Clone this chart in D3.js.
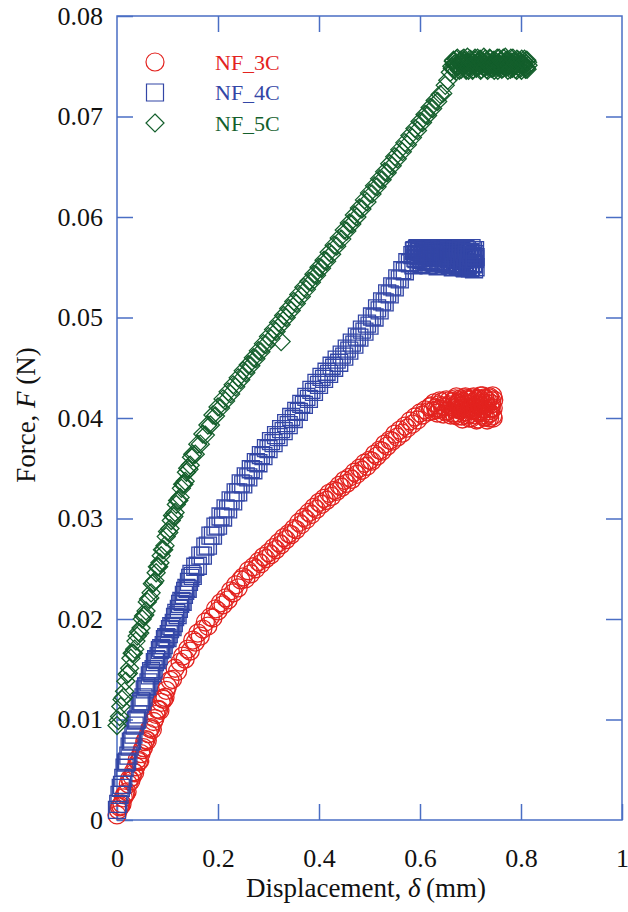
<!DOCTYPE html>
<html>
<head>
<meta charset="utf-8">
<script src="https://cdn.jsdelivr.net/npm/d3@7/dist/d3.min.js"></script>
<style>
  html, body { margin: 0; padding: 0; background: #fff; }
  svg { display: block; }
</style>
</head>
<body>
<svg id="chart" width="628" height="912"></svg>
<script>
// Force–displacement measurements, [displacement (mm), force (N)]
const seriesNames = ["NF_3C", "NF_4C", "NF_5C"];
const seriesColors = ["#e3231f", "#3346a6", "#145f2c"];

const nf3c = [
  [0,0.0005],[0.0025,0.0010],[0.005,0.0013],[0.0075,0.0014],[0.01,0.0016],[0.0125,0.0022],[0.015,0.0025],
  [0.0175,0.0026],[0.02,0.0028],[0.0225,0.0036],[0.025,0.0041],[0.0275,0.0039],[0.03,0.0043],[0.0325,0.0048],
  [0.035,0.0047],[0.0375,0.0053],[0.04,0.0060],[0.0425,0.0058],[0.045,0.0059],[0.0475,0.0066],[0.05,0.0070],
  [0.0525,0.0072],[0.055,0.0078],[0.0575,0.0080],[0.06,0.0079],[0.0625,0.0086],[0.065,0.0091],[0.0675,0.0092],
  [0.07,0.0090],[0.0725,0.0098],[0.075,0.0101],[0.0775,0.0105],[0.08,0.0110],[0.0825,0.0110],[0.085,0.0109],
  [0.0875,0.0117],[0.09,0.0121],[0.0925,0.0120],[0.095,0.0122],[0.0975,0.0129],[0.1,0.0133],
  [0.105,0.0139],[0.11,0.0140],[0.115,0.0151],[0.12,0.0148],[0.125,0.0157],[0.13,0.0163],[0.135,0.0160],
  [0.14,0.0170],[0.145,0.0168],[0.15,0.0179],[0.155,0.0177],[0.16,0.0186],[0.165,0.0183],[0.17,0.0190],
  [0.175,0.0197],[0.18,0.0193],[0.185,0.0202],[0.19,0.0201],[0.195,0.0210],[0.2,0.0208],[0.205,0.0216],
  [0.21,0.0214],[0.215,0.0221],[0.22,0.0219],[0.225,0.0228],[0.23,0.0226],[0.235,0.0234],[0.24,0.0231],
  [0.245,0.0239],[0.25,0.0242],[0.255,0.0240],[0.26,0.0248],[0.265,0.0245],[0.27,0.0252],[0.275,0.0250],
  [0.28,0.0257],[0.285,0.0255],[0.29,0.0262],[0.295,0.0260],[0.3,0.0266],[0.305,0.0264],[0.31,0.0271],
  [0.315,0.0269],[0.32,0.0276],[0.325,0.0274],[0.33,0.0281],[0.335,0.0279],[0.34,0.0285],[0.345,0.0284],
  [0.35,0.0290],[0.355,0.0289],[0.36,0.0296],[0.365,0.0294],[0.37,0.0301],[0.375,0.0299],[0.38,0.0306],
  [0.385,0.0304],[0.39,0.0311],[0.395,0.0309],[0.4,0.0316],[0.405,0.0314],[0.41,0.0320],[0.415,0.0318],
  [0.42,0.0325],[0.425,0.0322],[0.43,0.0328],[0.435,0.0327],[0.44,0.0333],[0.445,0.0331],[0.45,0.0338],
  [0.455,0.0335],[0.46,0.0341],[0.465,0.0339],[0.47,0.0346],[0.475,0.0344],[0.48,0.0350],[0.485,0.0348],
  [0.49,0.0355],[0.495,0.0352],[0.5,0.0358],[0.505,0.0357],[0.51,0.0364],[0.515,0.0362],[0.52,0.0368],
  [0.525,0.0367],[0.53,0.0374],[0.535,0.0372],[0.54,0.0378],[0.545,0.0377],[0.55,0.0384],[0.555,0.0381],
  [0.56,0.0388],[0.565,0.0385],[0.57,0.0392],[0.575,0.0390],[0.58,0.0397],[0.585,0.0394],[0.59,0.0401],
  [0.595,0.0398],[0.6,0.0405],[0.605,0.0403],[0.61,0.0408],[0.615,0.0406],[0.62,0.0411],
  [0.622,0.0412],[0.625,0.0407],[0.628,0.0415],[0.631,0.0410],[0.634,0.0405],[0.637,0.0413],[0.64,0.0409],
  [0.643,0.0416],[0.646,0.0404],[0.649,0.0411],[0.652,0.0418],[0.655,0.0407],[0.658,0.0413],[0.661,0.0403],
  [0.664,0.0416],[0.667,0.0409],[0.67,0.0419],[0.673,0.0405],[0.676,0.0412],[0.679,0.0417],[0.682,0.0402],
  [0.685,0.0410],[0.688,0.0420],[0.691,0.0406],[0.694,0.0414],[0.697,0.0400],[0.7,0.0418],[0.703,0.0408],
  [0.706,0.0421],[0.709,0.0403],[0.712,0.0413],[0.715,0.0399],[0.718,0.0419],[0.721,0.0407],[0.724,0.0422],
  [0.727,0.0401],[0.73,0.0415],[0.733,0.0398],[0.736,0.0420],[0.739,0.0405],[0.742,0.0417],[0.745,0.0400],
  [0.744,0.0422],[0.741,0.0410],[0.735,0.0407],[0.729,0.0419],[0.723,0.0412],[0.717,0.0405],[0.711,0.0418],
  [0.705,0.0411],[0.699,0.0404],[0.693,0.0419],[0.687,0.0413],[0.681,0.0408],[0.675,0.0415],[0.669,0.0403],
  [0.663,0.0411],[0.657,0.0417],[0.651,0.0406],[0.645,0.0412],[0.639,0.0417],[0.633,0.0408],[0.745,0.0410],
  [0.738,0.0400],
  [0.666,0.0405],[0.668,0.0417],[0.670,0.0410],[0.672,0.0421],[0.674,0.0402],[0.676,0.0414],[0.678,0.0408],
  [0.680,0.0419],[0.682,0.0412],[0.684,0.0399],[0.686,0.0416],[0.688,0.0406],[0.690,0.0421],[0.692,0.0410],
  [0.694,0.0403],[0.696,0.0418],[0.698,0.0409],[0.700,0.0414],[0.702,0.0400],[0.704,0.0420],[0.706,0.0407],
  [0.708,0.0416],[0.710,0.0411],[0.712,0.0398],[0.714,0.0419],[0.716,0.0406],[0.718,0.0413],[0.720,0.0422],
  [0.722,0.0403],[0.724,0.0415],[0.726,0.0409],[0.728,0.0420],[0.730,0.0401],[0.732,0.0412],[0.734,0.0417],
  [0.736,0.0404],[0.738,0.0421],[0.740,0.0409],[0.742,0.0414],[0.744,0.0402],[0.746,0.0418]
];

const nf4c = [
  [0,0.0010],[0.0025,0.0016],[0.005,0.0025],[0.0075,0.0032],[0.01,0.0035],[0.0125,0.0042],[0.015,0.0052],
  [0.0175,0.0057],[0.02,0.0058],[0.0225,0.0064],[0.025,0.0073],[0.0275,0.0078],[0.03,0.0079],[0.0325,0.0085],
  [0.035,0.0094],[0.0375,0.0099],[0.04,0.0100],[0.0425,0.0105],[0.045,0.0115],[0.0475,0.0118],[0.05,0.0118],
  [0.0525,0.0122],[0.055,0.0130],[0.0575,0.0133],[0.06,0.0133],[0.0625,0.0137],[0.065,0.0144],[0.0675,0.0148],
  [0.07,0.0146],[0.0725,0.0150],[0.075,0.0157],[0.0775,0.0160],[0.08,0.0159],[0.0825,0.0163],[0.085,0.0169],
  [0.0875,0.0171],[0.09,0.0170],[0.0925,0.0174],[0.095,0.0180],[0.0975,0.0182],[0.1,0.0181],[0.1025,0.0185],
  [0.105,0.0190],[0.1075,0.0193],[0.11,0.0192],[0.1125,0.0196],[0.115,0.0202],[0.1175,0.0206],[0.12,0.0204],
  [0.1225,0.0210],[0.125,0.0215],[0.1275,0.0218],[0.13,0.0217],[0.1325,0.0224],[0.135,0.0228],[0.1375,0.0231],
  [0.14,0.0230],[0.1425,0.0237],[0.145,0.0241],[0.1475,0.0245],[0.15,0.0243],
  [0.155,0.0252],[0.16,0.0253],[0.165,0.0263],[0.17,0.0263],
  [0.175,0.0272],[0.18,0.0273],[0.185,0.0283],[0.19,0.0283],[0.195,0.0292],[0.2,0.0293],[0.205,0.0302],
  [0.21,0.0301],[0.215,0.0310],[0.22,0.0309],[0.225,0.0318],[0.23,0.0317],[0.235,0.0326],[0.24,0.0326],
  [0.245,0.0335],[0.25,0.0334],[0.255,0.0342],[0.26,0.0341],[0.265,0.0349],[0.27,0.0348],[0.275,0.0356],
  [0.28,0.0355],[0.285,0.0363],[0.29,0.0362],[0.295,0.0370],[0.3,0.0369],[0.305,0.0377],[0.31,0.0375],
  [0.315,0.0383],[0.32,0.0381],[0.325,0.0389],[0.33,0.0387],[0.335,0.0395],[0.34,0.0393],[0.345,0.0401],
  [0.35,0.0399],[0.355,0.0407],[0.36,0.0406],[0.365,0.0414],[0.37,0.0413],[0.375,0.0421],[0.38,0.0419],
  [0.385,0.0428],[0.39,0.0426],[0.395,0.0435],[0.4,0.0433],[0.405,0.0441],[0.41,0.0439],[0.415,0.0446],
  [0.42,0.0444],[0.425,0.0452],[0.43,0.0450],[0.435,0.0458],[0.44,0.0455],[0.445,0.0463],[0.45,0.0461],
  [0.455,0.0469],[0.46,0.0467],[0.465,0.0475],[0.47,0.0473],[0.475,0.0481],[0.48,0.0480],[0.485,0.0488],
  [0.49,0.0486],[0.495,0.0494],[0.5,0.0492],[0.505,0.0501],[0.51,0.0500],[0.515,0.0509],[0.52,0.0507],
  [0.525,0.0516],[0.53,0.0515],[0.535,0.0524],[0.54,0.0523],[0.545,0.0531],[0.55,0.0530],[0.555,0.0539],
  [0.56,0.0538],[0.565,0.0547],[0.57,0.0546],[0.575,0.0555],[0.58,0.0554],[0.585,0.0562],
  [0.588,0.0566],[0.591,0.0559],[0.594,0.0568],[0.597,0.0561],[0.6,0.0565],[0.603,0.0557],[0.606,0.0569],
  [0.609,0.0562],[0.612,0.0566],[0.615,0.0556],[0.618,0.0568],[0.621,0.0560],[0.624,0.0564],[0.627,0.0555],
  [0.63,0.0569],[0.633,0.0561],[0.636,0.0566],[0.639,0.0554],[0.642,0.0568],[0.645,0.0559],[0.648,0.0564],
  [0.651,0.0553],[0.654,0.0569],[0.657,0.0558],[0.66,0.0565],[0.663,0.0552],[0.666,0.0568],[0.669,0.0557],
  [0.672,0.0563],[0.675,0.0551],[0.678,0.0569],[0.681,0.0556],[0.684,0.0564],[0.687,0.0550],[0.69,0.0568],
  [0.693,0.0555],[0.696,0.0562],[0.699,0.0549],[0.702,0.0569],[0.705,0.0554],[0.708,0.0563],[0.71,0.0550],
  [0.709,0.0567],[0.706,0.0559],[0.7,0.0565],[0.694,0.0551],[0.688,0.0560],[0.682,0.0566],[0.676,0.0558],
  [0.67,0.0566],[0.664,0.0560],[0.658,0.0563],[0.652,0.0567],[0.646,0.0562],[0.64,0.0560],[0.634,0.0564],
  [0.628,0.0560],[0.622,0.0566],[0.616,0.0561],[0.61,0.0563],[0.604,0.0561],[0.598,0.0567],[0.592,0.0563],
  [0.71,0.0560],[0.707,0.0548],
  [0.587,0.0552],[0.589,0.0567],[0.591,0.0563],[0.593,0.0558],[0.595,0.0569],[0.597,0.0555],[0.599,0.0561],
  [0.601,0.0566],[0.603,0.0553],[0.605,0.0564],[0.607,0.0559],[0.609,0.0568],[0.611,0.0556],[0.613,0.0562],
  [0.615,0.0565],[0.617,0.0552],[0.619,0.0560],[0.621,0.0569],[0.623,0.0557],[0.625,0.0563],[0.627,0.0567],
  [0.629,0.0554],[0.631,0.0561],[0.633,0.0565],[0.635,0.0551],[0.637,0.0559],[0.639,0.0568],[0.641,0.0556],
  [0.643,0.0562],[0.645,0.0566],[0.647,0.0553],[0.649,0.0560],[0.651,0.0569],[0.653,0.0555],[0.655,0.0561],
  [0.657,0.0567],[0.659,0.0552],[0.661,0.0558],[0.663,0.0564],[0.665,0.0550],[0.667,0.0561],[0.669,0.0569],
  [0.671,0.0554],[0.673,0.0559],[0.675,0.0566],[0.677,0.0551],[0.679,0.0562],[0.681,0.0568],[0.683,0.0553],
  [0.685,0.0557],[0.687,0.0565],[0.689,0.0549],[0.691,0.0560],[0.693,0.0567],[0.695,0.0552],[0.697,0.0558],
  [0.699,0.0564],[0.701,0.0550],[0.703,0.0561],[0.705,0.0567],[0.707,0.0553],[0.709,0.0558]
];

const nf5c = [
  [0,0.0094],[0.0025,0.0099],[0.005,0.0103],[0.0075,0.0113],[0.01,0.0120],[0.0125,0.0122],[0.015,0.0128],
  [0.0175,0.0138],[0.02,0.0145],[0.0225,0.0146],[0.025,0.0151],[0.0275,0.0161],[0.03,0.0166],[0.0325,0.0166],
  [0.035,0.0170],[0.0375,0.0178],[0.04,0.0183],[0.0425,0.0187],[0.045,0.0186],[0.0475,0.0191],[0.05,0.0200],
  [0.0525,0.0203],[0.055,0.0204],[0.0575,0.0208],[0.06,0.0217],[0.0625,0.0220],[0.065,0.0221],[0.0675,0.0226],
  [0.07,0.0235],[0.0725,0.0236],[0.075,0.0238],[0.0775,0.0246],[0.08,0.0252],[0.0825,0.0252],[0.085,0.0256],
  [0.0875,0.0263],[0.09,0.0269],[0.0925,0.0269],[0.095,0.0273],[0.0975,0.0282],[0.1,0.0287],[0.1025,0.0286],
  [0.105,0.0290],[0.1075,0.0298],[0.11,0.0303],[0.1125,0.0302],[0.115,0.0306],[0.1175,0.0314],[0.12,0.0318],
  [0.1225,0.0318],[0.125,0.0321],[0.1275,0.0330],[0.13,0.0334],[0.1325,0.0334],[0.135,0.0337],[0.1375,0.0346],
  [0.14,0.0350],[0.1425,0.0349],[0.145,0.0353],[0.1475,0.0361],[0.15,0.0364],
  [0.155,0.0364],[0.16,0.0374],[0.165,0.0374],[0.17,0.0384],
  [0.175,0.0383],[0.18,0.0393],[0.185,0.0393],[0.19,0.0403],[0.195,0.0402],[0.2,0.0411],[0.205,0.0410],
  [0.21,0.0419],[0.215,0.0417],[0.22,0.0426],[0.225,0.0424],[0.23,0.0433],[0.235,0.0431],[0.24,0.0440],
  [0.245,0.0438],[0.25,0.0447],[0.255,0.0445],[0.26,0.0453],[0.265,0.0452],[0.27,0.0460],[0.275,0.0459],
  [0.28,0.0467],[0.285,0.0466],[0.29,0.0474],[0.295,0.0473],[0.3,0.0481],[0.305,0.0479],[0.31,0.0488],
  [0.315,0.0486],[0.32,0.0495],[0.325,0.0493],[0.325,0.0476],[0.33,0.0502],[0.335,0.0500],[0.34,0.0509],
  [0.345,0.0507],[0.35,0.0516],[0.355,0.0514],[0.36,0.0523],[0.365,0.0521],[0.37,0.0530],[0.375,0.0528],
  [0.38,0.0536],[0.385,0.0535],[0.39,0.0543],[0.395,0.0542],[0.4,0.0550],[0.405,0.0549],[0.41,0.0557],
  [0.415,0.0556],[0.42,0.0565],[0.425,0.0563],[0.43,0.0572],[0.435,0.0571],[0.44,0.0579],[0.445,0.0578],
  [0.45,0.0587],[0.455,0.0586],[0.46,0.0594],[0.465,0.0593],[0.47,0.0602],[0.475,0.0600],[0.48,0.0609],
  [0.485,0.0608],[0.49,0.0617],[0.495,0.0615],[0.5,0.0624],[0.505,0.0623],[0.51,0.0631],[0.515,0.0630],
  [0.52,0.0638],[0.525,0.0637],[0.53,0.0645],[0.535,0.0644],[0.54,0.0653],[0.545,0.0651],[0.55,0.0660],
  [0.555,0.0658],[0.56,0.0667],[0.565,0.0665],[0.57,0.0674],[0.575,0.0672],[0.58,0.0681],[0.585,0.0679],
  [0.59,0.0688],[0.595,0.0686],[0.6,0.0695],[0.605,0.0694],[0.61,0.0702],[0.615,0.0701],[0.62,0.0709],
  [0.625,0.0708],[0.63,0.0716],[0.635,0.0715],[0.64,0.0722],[0.645,0.0723],[0.65,0.0731],[0.655,0.0736],
  [0.66,0.0744],
  [0.663,0.0750],[0.666,0.0755],[0.669,0.0747],[0.672,0.0757],[0.675,0.0751],[0.678,0.0746],[0.681,0.0756],
  [0.684,0.0750],[0.687,0.0758],[0.69,0.0748],[0.693,0.0754],[0.696,0.0746],[0.699,0.0757],[0.702,0.0751],
  [0.705,0.0747],[0.708,0.0756],[0.711,0.0749],[0.714,0.0758],[0.717,0.0752],[0.72,0.0746],[0.723,0.0755],
  [0.726,0.0749],[0.729,0.0757],[0.732,0.0747],[0.735,0.0753],[0.738,0.0758],[0.741,0.0748],[0.744,0.0755],
  [0.747,0.0746],[0.75,0.0752],[0.753,0.0758],[0.756,0.0749],[0.759,0.0755],[0.762,0.0747],[0.765,0.0758],
  [0.768,0.0750],[0.771,0.0756],[0.774,0.0746],[0.777,0.0753],[0.78,0.0758],[0.783,0.0748],[0.786,0.0755],
  [0.789,0.0747],[0.792,0.0757],[0.795,0.0750],[0.798,0.0755],[0.801,0.0746],[0.804,0.0753],[0.807,0.0757],
  [0.81,0.0749],[0.813,0.0754],[0.812,0.0747],[0.806,0.0750],[0.8,0.0752],[0.794,0.0753],[0.788,0.0751],
  [0.782,0.0752],[0.776,0.0750],[0.77,0.0753],[0.764,0.0751],[0.758,0.0752],[0.752,0.0750],[0.746,0.0752],
  [0.74,0.0751],[0.734,0.0750],[0.728,0.0752],[0.722,0.0751],[0.716,0.0754],[0.71,0.0752],[0.704,0.0753],
  [0.698,0.0751],[0.692,0.0752],[0.686,0.0753],[0.68,0.0752],[0.674,0.0750],[0.668,0.0752],
  [0.664,0.0748],[0.6665,0.0756],[0.669,0.0752],[0.6715,0.0745],[0.674,0.0758],[0.6765,0.0750],[0.679,0.0754],
  [0.6815,0.0747],[0.684,0.0757],[0.6865,0.0751],[0.689,0.0755],[0.6915,0.0746],[0.694,0.0759],[0.6965,0.0749],
  [0.699,0.0753],[0.7015,0.0756],[0.704,0.0746],[0.7065,0.0752],[0.709,0.0758],[0.7115,0.0748],[0.714,0.0754],
  [0.7165,0.0750],[0.719,0.0757],[0.7215,0.0747],[0.724,0.0753],[0.7265,0.0759],[0.729,0.0749],[0.7315,0.0755],
  [0.734,0.0746],[0.7365,0.0751],[0.739,0.0757],[0.7415,0.0753],[0.744,0.0748],[0.7465,0.0756],[0.749,0.0750],
  [0.7515,0.0754],[0.754,0.0746],[0.7565,0.0758],[0.759,0.0751],[0.7615,0.0755],[0.764,0.0748],[0.7665,0.0753],
  [0.769,0.0759],[0.7715,0.0749],[0.774,0.0756],[0.7765,0.0751],[0.779,0.0747],[0.7815,0.0754],[0.784,0.0758],
  [0.7865,0.0750],[0.789,0.0753],[0.7915,0.0746],[0.794,0.0756],[0.7965,0.0752],[0.799,0.0748],[0.8015,0.0757],
  [0.804,0.0751],[0.8065,0.0754],[0.809,0.0747],[0.8115,0.0756],[0.814,0.0751]
];

const xTicks = [0, 0.2, 0.4, 0.6, 0.8, 1];
const yTicks = [0, 0.01, 0.02, 0.03, 0.04, 0.05, 0.06, 0.07, 0.08];
const xTickLabels = ["0", "0.2", "0.4", "0.6", "0.8", "1"];
const yTickLabels = ["0", "0.01", "0.02", "0.03", "0.04", "0.05", "0.06", "0.07", "0.08"];

const serif = "'Liberation Serif', 'Times New Roman', Times, serif";
const svg = d3.select("#chart");
const margin = { left: 117, right: 6, top: 16, bottom: 92 };
const W = 628, H = 912;
const x = d3.scaleLinear().domain([0, 1]).range([margin.left, W - margin.right]);
const y = d3.scaleLinear().domain([0, 0.08]).range([H - margin.bottom, margin.top]);

const axisColor = "#4a6ec4";
const tickLen = 16;

// frame
svg.append("rect")
  .attr("x", x(0)).attr("y", y(0.08))
  .attr("width", x(1) - x(0)).attr("height", y(0) - y(0.08))
  .attr("fill", "none").attr("stroke", axisColor).attr("stroke-width", 1.5);

// inward ticks on all four sides
const fmtX = (d, i) => xTickLabels[i];
const fmtY = (d, i) => yTickLabels[i];
function styleAxis(g) {
  g.attr("font-family", serif).attr("font-size", 26);
  g.select(".domain").remove();
  g.selectAll(".tick line").attr("stroke", axisColor).attr("stroke-width", 1.5);
  g.selectAll(".tick text").attr("fill", "#111")
    .attr("font-family", serif).attr("font-size", 26);
}
svg.append("g").attr("transform", `translate(0,${y(0)})`)
  .call(d3.axisBottom(x).tickValues(xTicks).tickFormat(fmtX).tickSizeInner(-tickLen).tickSizeOuter(0).tickPadding(29))
  .call(styleAxis);
svg.append("g").attr("transform", `translate(0,${y(0.08)})`)
  .call(d3.axisTop(x).tickValues(xTicks.slice(1, -1)).tickFormat("").tickSizeInner(-tickLen).tickSizeOuter(0))
  .call(styleAxis);
svg.append("g").attr("transform", `translate(${x(0)},0)`)
  .call(d3.axisLeft(y).tickValues(yTicks).tickFormat(fmtY).tickSizeInner(-tickLen).tickSizeOuter(0).tickPadding(14))
  .call(styleAxis);
svg.append("g").attr("transform", `translate(${x(1)},0)`)
  .call(d3.axisRight(y).tickValues(yTicks.slice(1, -1)).tickFormat("").tickSizeInner(-tickLen).tickSizeOuter(0))
  .call(styleAxis);

// axis titles
const xTitle = svg.append("text")
  .attr("x", 366).attr("y", 897).attr("text-anchor", "middle")
  .attr("font-family", serif).attr("font-size", 27).attr("fill", "#111");
xTitle.append("tspan").text("Displacement, ");
xTitle.append("tspan").attr("font-style", "italic").text("δ");
xTitle.append("tspan").text("\u2009(mm)");

const yTitle = svg.append("text")
  .attr("transform", "translate(35,415) rotate(-90)").attr("text-anchor", "middle")
  .attr("font-family", serif).attr("font-size", 27).attr("fill", "#111");
yTitle.append("tspan").text("Force, ");
yTitle.append("tspan").attr("font-style", "italic").text("F");
yTitle.append("tspan").text(" (N)");

// marker shapes: open circle, open square, open diamond (square on its corner)
const diamond = {
  draw(ctx, size) {
    const r = Math.sqrt(size / 2);
    ctx.moveTo(0, -r); ctx.lineTo(r, 0); ctx.lineTo(0, r); ctx.lineTo(-r, 0); ctx.closePath();
  }
};
const symbols = [d3.symbolCircle, d3.symbolSquare, diamond];
const symbolSizes = [Math.PI * 9 * 9, 17 * 17, 2 * 9 * 9];
const seriesData = [nf3c, nf4c, nf5c];

const plot = svg.append("g");
seriesData.forEach((data, si) => {
  const sym = d3.symbol().type(symbols[si]).size(symbolSizes[si]);
  plot.append("g").selectAll("path").data(data).join("path")
    .attr("transform", d => `translate(${x(d[0])},${y(d[1])})`)
    .attr("d", sym)
    .attr("fill", "none")
    .attr("stroke", seriesColors[si])
    .attr("stroke-width", 1.3);
});

// legend
const legend = svg.append("g");
seriesNames.forEach((name, i) => {
  const ly = 62 + i * 30.5;
  legend.append("path")
    .attr("transform", `translate(155,${ly})`)
    .attr("d", d3.symbol().type(symbols[i]).size(symbolSizes[i])())
    .attr("fill", "none").attr("stroke", seriesColors[i]).attr("stroke-width", 1.2);
  legend.append("text")
    .attr("x", 215).attr("y", ly + 7.5)
    .attr("font-family", serif).attr("font-size", 22).attr("fill", seriesColors[i])
    .text(name);
});
</script>
</body>
</html>
